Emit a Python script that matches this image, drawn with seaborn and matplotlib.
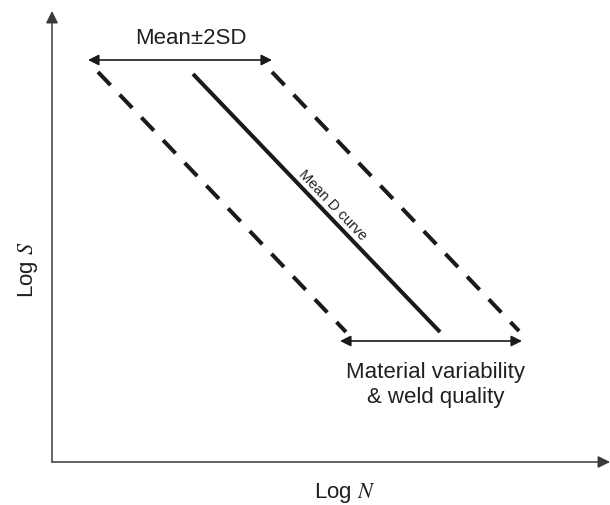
import matplotlib
matplotlib.use("Agg")
import matplotlib.pyplot as plt
import seaborn as sns
import pandas as pd

sns.set_style("white")
plt.rcParams["font.family"] = ["Liberation Sans", "DejaVu Sans"]
plt.rcParams["mathtext.fontset"] = "stix"

# S-N curve band (log N, log S in arbitrary units)
curve_names = ["Mean - 2SD", "Mean D curve", "Mean + 2SD"]
log_n_start = [0.46, 1.41, 2.20]
log_n_end = [2.94, 3.88, 4.67]
log_s_start = [3.90, 3.88, 3.90]
log_s_end = [1.30, 1.30, 1.31]

# Scatter arrows: (x0, x1, y)
sd_arrow = [0.36, 2.20, 4.02]
material_arrow = [2.88, 4.70, 1.21]

ink = "#1a1a1a"
text_col = "#231f20"

fig = plt.figure(figsize=(6.10, 5.06), dpi=100)
ax = fig.add_axes([52 / 610, 43 / 506, 558 / 610, 463 / 506])

rows = []
for name, x0, x1, y0, y1 in zip(curve_names, log_n_start, log_n_end, log_s_start, log_s_end):
    rows.append({"curve": name, "logN": x0, "logS": y0})
    rows.append({"curve": name, "logN": x1, "logS": y1})
df = pd.DataFrame(rows)

for name in curve_names:
    sub = df[df["curve"] == name]
    ls = "-" if name == "Mean D curve" else (0, (4.5, 3.3))
    sns.lineplot(data=sub, x="logN", y="logS", ax=ax, sort=False,
                 color=ink, lw=2.9, linestyle=ls, solid_capstyle="butt",
                 dash_capstyle="butt", legend=False)

ax.set_xlim(0, 5.58)
ax.set_ylim(0, 4.63)
ax.axis("off")

# coordinate axes with arrowheads
axis_kw = dict(arrowstyle="-|>", color="#3a3a3a", lw=1.1, mutation_scale=18,
               shrinkA=0, shrinkB=0)
ax.annotate("", xy=(0, 4.51), xytext=(0, 0), arrowprops=axis_kw, annotation_clip=False)
ax.annotate("", xy=(5.58, 0), xytext=(0, 0), arrowprops=axis_kw, annotation_clip=False)

# double-headed range arrows
rng_kw = dict(arrowstyle="<|-|>", color=ink, lw=1.2, mutation_scale=16,
              shrinkA=0, shrinkB=0)
ax.annotate("", xy=(sd_arrow[1], sd_arrow[2]), xytext=(sd_arrow[0], sd_arrow[2]),
            arrowprops=rng_kw)
ax.annotate("", xy=(material_arrow[1], material_arrow[2]),
            xytext=(material_arrow[0], material_arrow[2]), arrowprops=rng_kw)

ax.text(1.39, 4.25, "Mean±2SD", ha="center", va="center", fontsize=16, color=text_col)
ax.text(3.84, 0.78, "Material variability\n& weld quality", ha="center", va="center",
        fontsize=16, color=text_col, linespacing=1.3)
ax.text(2.81, 2.58, "Mean D curve", ha="center", va="center", fontsize=10.5,
        color=text_col, rotation=-46.2, rotation_mode="anchor")

ax.text(-0.24, 1.93, "Log $S$", ha="center", va="center", rotation=90,
        fontsize=16, color=text_col, clip_on=False)
ax.text(2.93, -0.30, "Log $N$", ha="center", va="center", fontsize=16,
        color=text_col, clip_on=False)

fig.savefig("out.png", dpi=100)
